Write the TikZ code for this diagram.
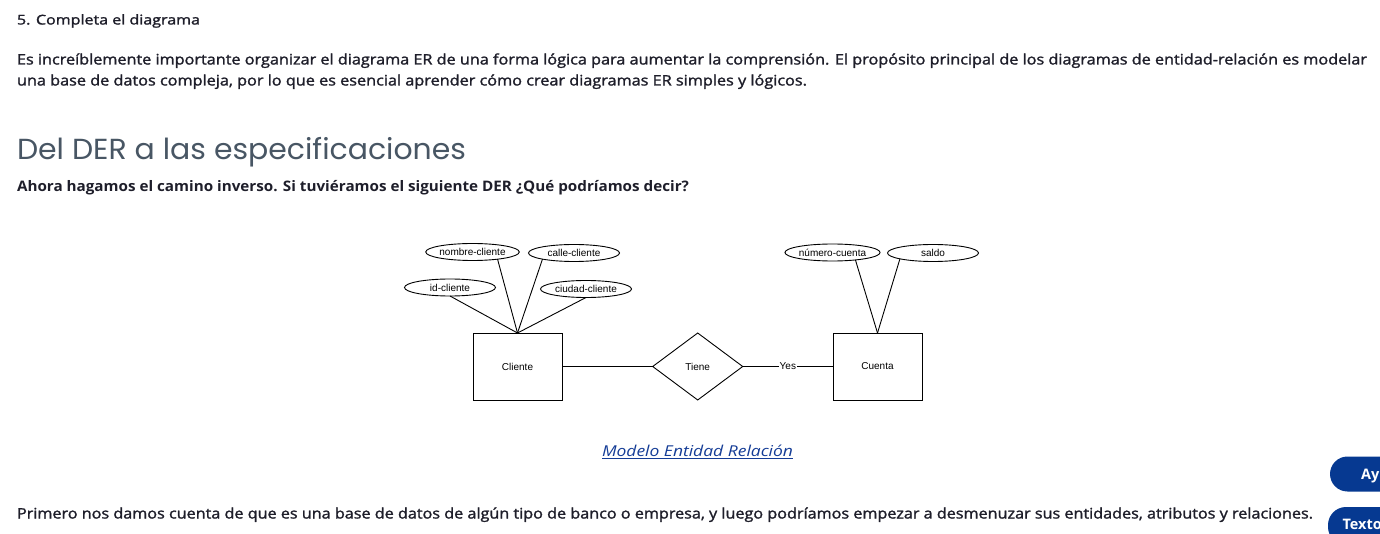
\documentclass[tikz,border=0pt]{standalone}
\usepackage{graphicx}
\usepackage{fontspec}
\setmainfont{Open Sans}
\newfontfamily\headfont{Poppins}
\newfontfamily\medfont[FakeBold=1.5]{Open Sans}
\newfontfamily\erfont{Liberation Sans}
\usetikzlibrary{shapes.geometric}
\definecolor{bodytext}{RGB}{30,30,42}
\definecolor{headgray}{RGB}{72,86,100}
\definecolor{linkblue}{RGB}{20,60,150}
\definecolor{btnblue}{RGB}{6,57,145}
\newlength\fitlen
\newcommand\fitto[2]{\settowidth\fitlen{#2}\scalebox{\fpeval{(#1)/\fitlen}}[1]{#2}}
\begin{document}
\begin{tikzpicture}[x=1pt,y=-1pt,
  every node/.style={inner sep=0pt,outer sep=0pt},
  txt/.style={anchor=base west,text=bodytext},
  attr/.style={ellipse,draw=black,line width=0.9pt,minimum width=91pt,minimum height=17pt,font=\erfont\fontsize{10}{12}\selectfont},
  entity/.style={rectangle,draw=black,line width=0.9pt,minimum width=89pt,minimum height=67pt,font=\erfont\fontsize{10}{12}\selectfont},
  rel/.style={diamond,draw=black,line width=0.9pt,aspect=1.34,minimum width=90pt,minimum height=67pt,font=\erfont\fontsize{10}{12}\selectfont},
  conn/.style={draw=black,line width=0.9pt},
  pill/.style={fill=btnblue},
  btntext/.style={anchor=base west,text=white,font=\bfseries\fontsize{14.5}{16}\selectfont}]
\useasboundingbox (0,0) rectangle (1380,534);
\fill[white] (0,0) rectangle (1380,534);

% texts
\node[txt] (t1) at (17,24.5) {\fontsize{13.5}{15}\medfont\fitto{183}{5. Completa el diagrama}};
\node[txt] (p1) at (17,64.5) {\fontsize{14.5}{16}\medfont\fitto{1350}{Es increíblemente importante organizar el diagrama ER de una forma lógica para aumentar la comprensión. El propósito principal de los diagramas de entidad-relación es modelar}};
\node[txt] (p2) at (17,85.5) {\fontsize{14.5}{16}\medfont\fitto{790}{una base de datos compleja, por lo que es esencial aprender cómo crear diagramas ER simples y lógicos.}};
\node[txt,text=headgray] (h1) at (17,160) {\fontsize{29}{34}\headfont\fitto{449}{Del DER a las especificaciones}};
\node[txt] (p3) at (17,192) {\fontsize{14.5}{16}\bfseries\fitto{672}{Ahora hagamos el camino inverso. Si tuviéramos el siguiente DER ¿Qué podríamos decir?}};
\node[txt,text=linkblue] (cap) at (602,456) {\fontsize{15}{18}\itshape\fitto{191}{Modelo Entidad Relación}};
\draw[linkblue,line width=0.9pt] (cap.base west) ++(0,2.2) -- ++(191,0);
\node[txt] (p4) at (17,518.5) {\fontsize{14.5}{16}\medfont\fitto{1296}{Primero nos damos cuenta de que es una base de datos de algún tipo de banco o empresa, y luego podríamos empezar a desmenuzar sus entidades, atributos y relaciones.}};

% ER diagram
\node[attr] (nombre) at (472.5,252) {nombre-cliente};
\node[attr] (calle) at (574,253) {calle-cliente};
\node[attr] (idc) at (450,287.5) {id-cliente};
\node[attr] (ciudad) at (586,289) {ciudad-cliente};
\node[attr] (numero) at (832.5,252.5) {número-cuenta};
\node[attr] (saldo) at (933,253) {saldo};
\node[entity] (cliente) at (517.5,366.5) {Cliente};
\node[rel] (tiene) at (697.7,366.5) {Tiene};
\node[entity] (cuenta) at (877.5,366.5) {Cuenta};

\draw[conn] (nombre.-16.3) -- (cliente.north);
\draw[conn] (calle.-169.6) -- (cliente.north);
\draw[conn] (idc.south) -- (cliente.north);
\draw[conn] (ciudad.south) -- (cliente.north);
\draw[conn] (numero.-18.2) -- (cuenta.north);
\draw[conn] (saldo.-170) -- (cuenta.north);
\draw[conn] (cliente.east) -- (tiene.west);
\draw[conn] (tiene.east) -- node[fill=white,inner xsep=0.5pt,inner ysep=1pt,font=\erfont\fontsize{10}{12}\selectfont] (yes) {Yes} (cuenta.west);

% buttons
\begin{scope}
\clip (0,0) rectangle (1380,534);
\fill[pill,rounded corners=17.5pt] (1330,456.5) rectangle (1420,491.5);
\fill[pill,rounded corners=18pt] (1328,507) rectangle (1420,545);
\end{scope}
\node[btntext] (b1) at (1361,479) {Ay};
\node[btntext] (b2) at (1342.5,529) {Texto};
\end{tikzpicture}
\end{document}
